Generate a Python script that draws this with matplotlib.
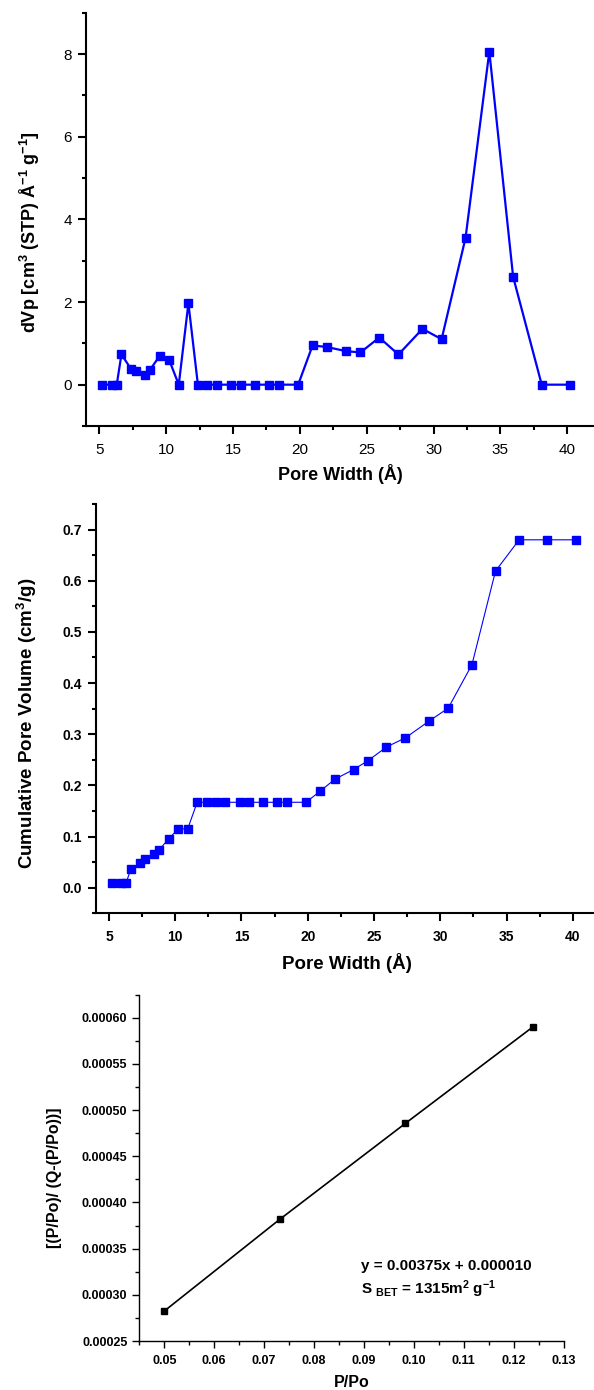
import matplotlib
matplotlib.use("Agg")
import matplotlib.pyplot as plt
from matplotlib.ticker import MultipleLocator, FormatStrFormatter

plt.rcParams['font.family'] = ['Liberation Sans', 'DejaVu Sans']
plt.rcParams['mathtext.default'] = 'regular'

# ---- data ----
pore_width = [5.23, 5.91, 6.30, 6.65, 7.37, 7.72, 8.41, 8.79, 9.52, 10.23,
              10.94, 11.66, 12.37, 13.07, 13.79, 14.86, 15.56, 16.65, 17.71, 18.42,
              19.87, 20.95, 22.04, 23.46, 24.53, 25.94, 27.37, 29.17, 30.60, 32.39,
              34.17, 35.95, 38.09, 40.22]
dvp = [0, 0, 0, 0.73, 0.38, 0.34, 0.24, 0.36, 0.70, 0.59,
       0, 1.97, 0, 0, 0, 0, 0, 0, 0, 0,
       0, 0.95, 0.91, 0.81, 0.78, 1.14, 0.73, 1.35, 1.10, 3.55,
       8.06, 2.61, 0, 0]
cum_volume = [0.010, 0.010, 0.010, 0.036, 0.049, 0.057, 0.065, 0.074, 0.096, 0.115,
              0.115, 0.167, 0.167, 0.167, 0.167, 0.167, 0.167, 0.167, 0.167, 0.167,
              0.167, 0.189, 0.212, 0.231, 0.248, 0.275, 0.293, 0.326, 0.351, 0.436,
              0.619, 0.680, 0.680, 0.680]
p_po = [0.0500, 0.0731, 0.0983, 0.1238]
bet_y = [0.0002824, 0.0003816, 0.0004857, 0.000590]

W, H = 594, 1390
fig = plt.figure(figsize=(W / 100, H / 100), dpi=100)
fig.patch.set_facecolor('white')

def px_axes(left, top, right, bottom):
    return fig.add_axes([left / W, 1 - bottom / H, (right - left) / W, (bottom - top) / H])

def style(ax, lw, major, minor):
    for s in ('top', 'right'):
        ax.spines[s].set_visible(False)
    for s in ('left', 'bottom'):
        ax.spines[s].set_linewidth(lw)
    ax.tick_params(which='major', direction='out', length=major, width=lw)
    ax.tick_params(which='minor', direction='out', length=minor, width=lw)

# ---- top panel ----
ax1 = px_axes(86, 12.7, 594, 426)
ax1.plot(pore_width, dvp, color='#0000FF', lw=1.6, marker='s', ms=6.3,
         markeredgecolor='#0000FF')
ax1.set_xlim(4, 42)
ax1.set_ylim(-1, 9)
ax1.xaxis.set_major_locator(MultipleLocator(5))
ax1.xaxis.set_minor_locator(MultipleLocator(2.5))
ax1.yaxis.set_major_locator(MultipleLocator(2))
ax1.yaxis.set_minor_locator(MultipleLocator(1))
style(ax1, 1.5, 6, 3)
ax1.tick_params(axis='x', which='both', pad=6, labelsize=11)
ax1.tick_params(axis='y', which='both', pad=4, labelsize=11)
ax1.set_xlabel('Pore Width (Å)', fontsize=13, fontweight='bold')
ax1.set_ylabel('dVp [cm$^{3}$ (STP) Å$^{-1}$ g$^{-1}$]', fontsize=13, fontweight='bold')
ax1.xaxis.label.set_va('center')
ax1.xaxis.set_label_coords(0.501, -0.116)
ax1.yaxis.label.set_va('center')
ax1.yaxis.set_label_coords(-0.110, 0.470)

# ---- middle panel ----
ax2 = px_axes(95.7, 504, 594, 913.3)
ax2.plot(pore_width, cum_volume, color='#0000FF', lw=0.8, marker='s', ms=6.3,
         markeredgecolor='#0000FF')
ax2.set_xlim(4, 41.6)
ax2.set_ylim(-0.05, 0.75)
ax2.xaxis.set_major_locator(MultipleLocator(5))
ax2.xaxis.set_minor_locator(MultipleLocator(2.5))
ax2.yaxis.set_major_locator(MultipleLocator(0.1))
ax2.yaxis.set_minor_locator(MultipleLocator(0.05))
ax2.yaxis.set_major_formatter(FormatStrFormatter('%.1f'))
style(ax2, 1.5, 6, 3)
ax2.tick_params(axis='x', which='both', pad=6, labelsize=10)
ax2.tick_params(axis='y', which='both', pad=4, labelsize=10)
for lab in ax2.get_xticklabels() + ax2.get_yticklabels():
    lab.set_fontweight('bold')
ax2.set_xlabel('Pore Width (Å)', fontsize=13.5, fontweight='bold')
ax2.set_ylabel('Cumulative Pore Volume (cm$^{3}$/g)', fontsize=13.5, fontweight='bold')
ax2.xaxis.label.set_va('center')
ax2.xaxis.set_label_coords(0.504, -0.121)
ax2.yaxis.label.set_va('center')
ax2.yaxis.set_label_coords(-0.137, 0.464)

# ---- bottom panel ----
ax3 = px_axes(139.3, 994.7, 563.7, 1341)
ax3.plot(p_po, bet_y, color='black', lw=1.2, marker='s', ms=5)
ax3.set_xlim(0.045, 0.13)
ax3.set_ylim(0.00025, 0.000625)
ax3.xaxis.set_major_locator(MultipleLocator(0.01))
ax3.xaxis.set_minor_locator(MultipleLocator(0.005))
ax3.yaxis.set_major_locator(MultipleLocator(0.00005))
ax3.yaxis.set_minor_locator(MultipleLocator(0.000025))
ax3.xaxis.set_major_formatter(FormatStrFormatter('%.2f'))
ax3.yaxis.set_major_formatter(FormatStrFormatter('%.5f'))
style(ax3, 1.0, 5, 3)
ax3.tick_params(axis='x', which='both', pad=5, labelsize=9)
ax3.tick_params(axis='y', which='both', pad=3.5, labelsize=9)
for lab in ax3.get_xticklabels() + ax3.get_yticklabels():
    lab.set_fontweight('bold')
ax3.set_xlabel('P/Po', fontsize=11.5, fontweight='bold')
ax3.set_ylabel('[(P/Po)/ (Q-(P/Po))]', fontsize=11.5, fontweight='bold')
ax3.xaxis.label.set_va('center')
ax3.xaxis.set_label_coords(0.50, -0.121)
ax3.yaxis.label.set_va('center')
ax3.yaxis.set_label_coords(-0.199, 0.471)
ax3.text(0.522, 0.2166, 'y = 0.00375x + 0.000010', transform=ax3.transAxes,
         fontsize=11, fontweight='bold', ha='left', va='center')
ax3.text(0.522, 0.150, 'S $_{BET}$ = 1315m$^{2}$ g$^{-1}$', transform=ax3.transAxes,
         fontsize=11, fontweight='bold', ha='left', va='center')

fig.savefig('out.png', dpi=100, facecolor='white')
